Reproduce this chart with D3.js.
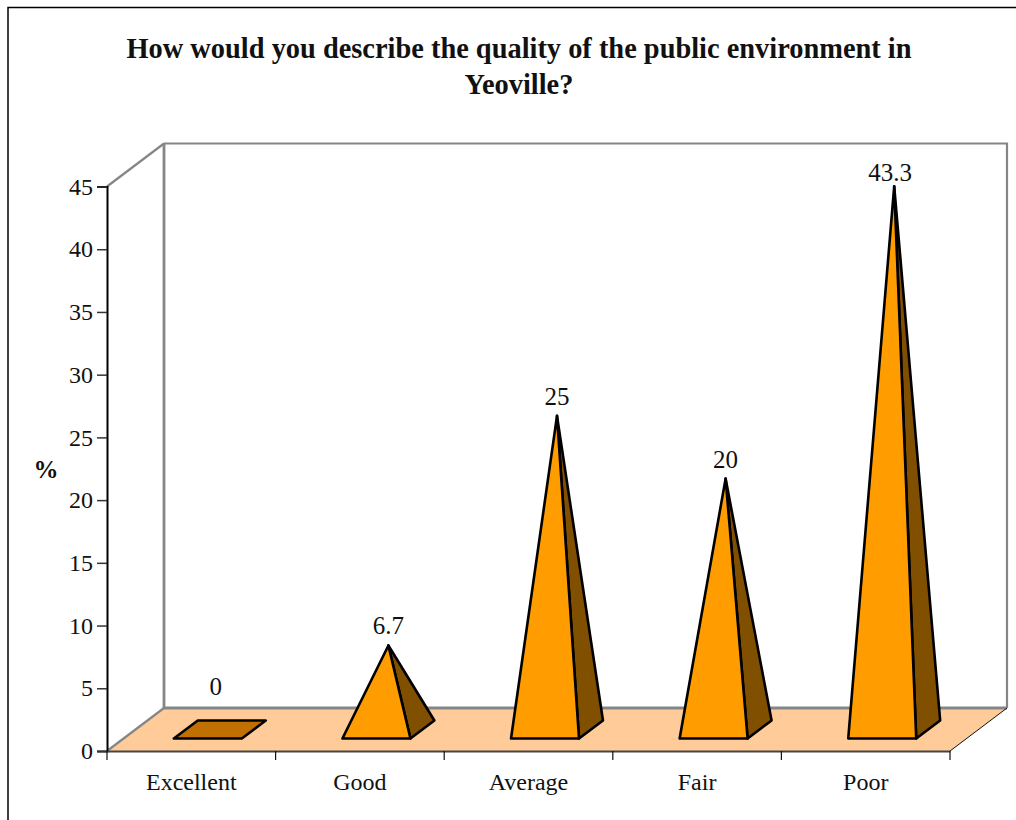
<!DOCTYPE html>
<html>
<head>
<meta charset="utf-8">
<script src="https://cdn.jsdelivr.net/npm/d3@7"></script>
<style>
  html, body { margin: 0; padding: 0; background: #fff; }
  svg { display: block; }
  text { font-family: "Liberation Serif", "Times New Roman", serif; fill: #111; }
</style>
</head>
<body>
<svg id="chart" width="1016" height="820"></svg>
<script>
// Survey responses, in percent
const categories = ["Excellent", "Good", "Average", "Fair", "Poor"];
const percentages = [0, 6.7, 25, 20, 43.3];
const valueTicks = [0, 5, 10, 15, 20, 25, 30, 35, 40, 45];
const titleLines = [
  "How would you describe the quality of the public environment in",
  "Yeoville?"
];

const svg = d3.select("#chart");

// Front plane of the 3D box
const x = d3.scaleBand().domain(categories).range([107, 950]);
const y = d3.scaleLinear().domain([0, 45]).range([751, 186.5]);
// Depth runs from the front plane (0) to the back wall (1)
const depthX = d3.scaleLinear().domain([0, 1]).range([0, 57]);
const depthY = d3.scaleLinear().domain([0, 1]).range([0, -43]);

// Project a position in the band (0..1), a value and a depth onto the page
function project(cat, along, value, depth) {
  return [
    x(cat) + x.bandwidth() * along + depthX(depth),
    y(value) + depthY(depth)
  ];
}
function boxPoint(px, value, depth) {
  return [px + depthX(depth), y(value) + depthY(depth)];
}
const poly = pts => pts.map(p => p.join(",")).join(" ");
const segment = d3.line();

const [xMin, xMax] = x.range();

// Floor
svg.append("polygon")
  .attr("points", poly([boxPoint(xMin, 0, 0), boxPoint(xMax, 0, 0), boxPoint(xMax, 0, 1), boxPoint(xMin, 0, 1)]))
  .attr("fill", "#ffcc99");

// Back wall outline, heavier on the left and along the floor
svg.append("path")
  .attr("d", segment([boxPoint(xMin, 45, 1), boxPoint(xMax, 45, 1), boxPoint(xMax, 0, 1)]))
  .attr("fill", "none").attr("stroke", "#868686").attr("stroke-width", 2.2);
svg.append("path")
  .attr("d", segment([boxPoint(xMax, 0, 1), boxPoint(xMin, 0, 1), boxPoint(xMin, 45, 1)]))
  .attr("fill", "none").attr("stroke", "#868686").attr("stroke-width", 2.8);

// Side wall edges
svg.append("path")
  .attr("d", segment([boxPoint(xMin, 45, 0), boxPoint(xMin, 45, 1)]))
  .attr("stroke", "#868686").attr("stroke-width", 2.2).attr("fill", "none");
svg.append("path")
  .attr("d", segment([boxPoint(xMin, 0, 0), boxPoint(xMin, 0, 1)]))
  .attr("stroke", "#868686").attr("stroke-width", 2.2).attr("fill", "none");
// Right edge of the floor
svg.append("path")
  .attr("d", segment([boxPoint(xMax, 0, 0), boxPoint(xMax, 0, 1)]))
  .attr("stroke", "#111").attr("stroke-width", 1).attr("fill", "none");

// Pyramids: each base sits in the middle of the floor depth
const baseInset = 0.29;
const baseWidth = 68 / x.bandwidth();

function pyramid(cat, value) {
  const near = baseInset, far = 1 - baseInset;
  const start = (1 - baseWidth) / 2;
  return {
    fl: project(cat, start, 0, near),
    fr: project(cat, start + baseWidth, 0, near),
    bl: project(cat, start, 0, far),
    br: project(cat, start + baseWidth, 0, far),
    apex: project(cat, 0.5, value, 0.5)
  };
}

const rows = categories.map((c, i) => ({ cat: c, value: percentages[i] }));

const bars = svg.append("g").selectAll("g")
  .data(rows)
  .join("g")
  .attr("stroke", "#000").attr("stroke-width", 2.6).attr("stroke-linejoin", "round");

bars.each(function (d) {
  const g = d3.select(this);
  const p = pyramid(d.cat, d.value);
  if (d.value === 0) {
    // A zero value collapses to its base, seen from above
    g.append("polygon").attr("points", poly([p.fl, p.fr, p.br, p.bl])).attr("fill", "#bf7000");
  } else {
    g.append("polygon").attr("points", poly([p.fr, p.br, p.apex])).attr("fill", "#805000");
    g.append("polygon").attr("points", poly([p.fl, p.fr, p.apex])).attr("fill", "#ff9c00");
  }
});

// Value labels above each apex; a flat bar keeps its label above the floor,
// and the tallest stays inside the back wall
svg.append("g").selectAll("text")
  .data(rows)
  .join("text")
  .attr("text-anchor", "middle")
  .attr("font-size", 25)
  .attr("x", d => project(d.cat, 0.5, d.value, 0.5)[0] - (d.value > 40 || d.value === 0 ? 4 : 0))
  .attr("y", d => {
    const top = project(d.cat, 0.5, d.value, 0.5)[1];
    return Math.max(Math.min(top - 11, y(0) + depthY(1) - 13), y(45) - 6);
  })
  .text(d => d.value);

// Value axis
const yAxis = svg.append("g")
  .attr("transform", `translate(${xMin},0)`)
  .call(d3.axisLeft(y).tickValues(valueTicks).tickSize(10).tickPadding(4).tickFormat(d3.format("d")));
yAxis.select(".domain").attr("stroke", "#000").attr("stroke-width", 2);
yAxis.selectAll(".tick line").attr("stroke", "#333").attr("stroke-width", 1.5);
yAxis.selectAll("text").attr("font-size", 24).attr("font-family", "Liberation Serif").attr("fill", "#111");

// Category axis: labels centred in each band, ticks on the band edges
const xAxis = svg.append("g")
  .attr("transform", `translate(0,${y(0)})`)
  .call(d3.axisBottom(x).tickSize(0).tickPadding(22));
xAxis.select(".domain").attr("stroke", "#444").attr("stroke-width", 2);
xAxis.selectAll("text").attr("font-size", 24).attr("font-family", "Liberation Serif").attr("fill", "#111");
xAxis.selectAll(".edge")
  .data(categories.map(c => x(c)).concat([xMax]))
  .join("line")
  .attr("class", "edge")
  .attr("x1", d => d).attr("x2", d => d)
  .attr("y1", 0).attr("y2", 9)
  .attr("stroke", "#111").attr("stroke-width", 1.2);

// Axis title
svg.append("text")
  .attr("x", 46).attr("y", 478)
  .attr("text-anchor", "middle")
  .attr("font-size", 25).attr("font-weight", "bold")
  .text("%");

// Chart title
svg.append("g").selectAll("text")
  .data(titleLines)
  .join("text")
  .attr("x", 519)
  .attr("y", (d, i) => 58 + i * 36)
  .attr("text-anchor", "middle")
  .attr("font-size", 28.4).attr("font-weight", "bold")
  .text(d => d);

// Frame around the chart, running off the page on the right and at the bottom
svg.append("path")
  .attr("d", segment([[8, 820], [8, 7.5], [1016, 7.5]]))
  .attr("fill", "none").attr("stroke", "#000").attr("stroke-width", 1.5);
</script>
</body>
</html>
